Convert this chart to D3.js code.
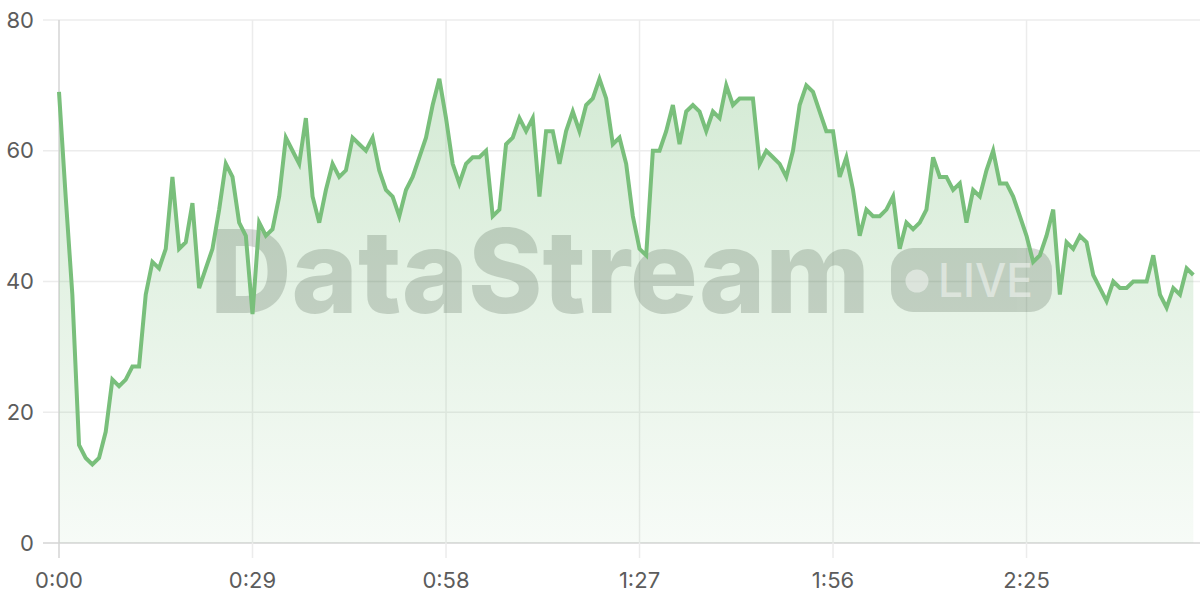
<!DOCTYPE html>
<html>
<head>
<meta charset="utf-8">
<script src="https://cdn.jsdelivr.net/npm/d3@7/dist/d3.min.js"></script>
<style>
  html, body { margin: 0; padding: 0; background: #fff; }
  #chart { width: 1200px; height: 600px; }
  text { font-family: Inter, "Noto Sans", sans-serif; }
</style>
</head>
<body>
<div id="chart"></div>
<script>
// Stream readings, one per second
const values = [
  69, 53, 38, 15, 13, 12, 13, 17, 25, 24, 25, 27, 27, 38, 43, 42, 45, 56, 45, 46,
  52, 39, 42, 45, 51, 58, 56, 49, 47, 35, 49, 47, 48, 53, 62, 60, 58, 65, 53, 49,
  54, 58, 56, 57, 62, 61, 60, 62, 57, 54, 53, 50, 54, 56, 59, 62, 67, 71, 65, 58,
  55, 58, 59, 59, 60, 50, 51, 61, 62, 65, 63, 65, 53, 63, 63, 58, 63, 66, 63, 67,
  68, 71, 68, 61, 62, 58, 50, 45, 44, 60, 60, 63, 67, 61, 66, 67, 66, 63, 66, 65,
  70, 67, 68, 68, 68, 58, 60, 59, 58, 56, 60, 67, 70, 69, 66, 63, 63, 56, 59, 54,
  47, 51, 50, 50, 51, 53, 45, 49, 48, 49, 51, 59, 56, 56, 54, 55, 49, 54, 53, 57,
  60, 55, 55, 53, 50, 47, 43, 44, 47, 51, 38, 46, 45, 47, 46, 41, 39, 37, 40, 39,
  39, 40, 40, 40, 44, 38, 36, 39, 38, 42, 41
];
const xTicks = [0, 29, 58, 87, 116, 145];
const xTickLabels = ['0:00', '0:29', '0:58', '1:27', '1:56', '2:25'];
const yTicks = [0, 20, 40, 60, 80];

const width = 1200, height = 600;
const margin = { top: 20, right: 0, bottom: 57, left: 59 };
const lineColor = '#79bf7b';

const svg = d3.select('#chart').append('svg')
  .attr('width', width)
  .attr('height', height);

const x = d3.scaleLinear().domain([0, values.length]).range([margin.left, width - margin.right]);
const y = d3.scaleLinear().domain([0, 80]).range([height - margin.bottom, margin.top]);

// Area gradient
const grad = svg.append('defs').append('linearGradient')
  .attr('id', 'fillGrad')
  .attr('x1', 0).attr('y1', 0).attr('x2', 0).attr('y2', 1);
grad.append('stop').attr('offset', '0%').attr('stop-color', lineColor).attr('stop-opacity', 0.32);
grad.append('stop').attr('offset', '100%').attr('stop-color', lineColor).attr('stop-opacity', 0.06);

// Horizontal grid
svg.append('g')
  .selectAll('line')
  .data(yTicks)
  .join('line')
  .attr('x1', margin.left - 16)
  .attr('x2', width)
  .attr('y1', d => y(d))
  .attr('y2', d => y(d))
  .attr('stroke', d => d === 0 ? '#d4d4d4' : '#ececec')
  .attr('stroke-width', 1.5);

// Vertical grid (extends below as tick)
svg.append('g')
  .selectAll('line')
  .data(xTicks)
  .join('line')
  .attr('x1', d => x(d))
  .attr('x2', d => x(d))
  .attr('y1', margin.top)
  .attr('y2', y(0) + 15)
  .attr('stroke', d => d === 0 ? '#d4d4d4' : '#ececec')
  .attr('stroke-width', 1.5);

// Area
const area = d3.area()
  .x((d, i) => x(i))
  .y0(y(0))
  .y1(d => y(d));

svg.append('path')
  .datum(values)
  .attr('fill', 'url(#fillGrad)')
  .attr('d', area);

// Watermark
const wm = svg.append('g').attr('opacity', 0.18);
wm.append('text')
  .attr('x', 210)
  .attr('y', 313)
  .attr('font-size', 116)
  .attr('font-weight', 800)
  .attr('textLength', 660)
  .attr('lengthAdjust', 'spacingAndGlyphs')
  .attr('fill', '#1f3320')
  .text('DataStream');
wm.append('rect')
  .attr('x', 891)
  .attr('y', 248)
  .attr('width', 161)
  .attr('height', 64)
  .attr('rx', 22)
  .attr('fill', '#1f3320');
svg.append('circle')
  .attr('cx', 917)
  .attr('cy', 281)
  .attr('r', 11.5)
  .attr('fill', '#fff')
  .attr('opacity', 0.45);
svg.append('text')
  .attr('x', 938)
  .attr('y', 297)
  .attr('font-size', 46)
  .attr('font-weight', 500)
  .attr('textLength', 95)
  .attr('lengthAdjust', 'spacingAndGlyphs')
  .attr('fill', '#fff')
  .attr('opacity', 0.45)
  .text('LIVE');

// Line
const line = d3.line()
  .x((d, i) => x(i))
  .y(d => y(d));

svg.append('path')
  .datum(values)
  .attr('fill', 'none')
  .attr('stroke', lineColor)
  .attr('stroke-width', 4)
  .attr('stroke-linejoin', 'miter')
  .attr('d', line);

// Y labels
svg.append('g')
  .selectAll('text')
  .data(yTicks)
  .join('text')
  .attr('x', 34)
  .attr('y', d => y(d))
  .attr('dy', '0.35em')
  .attr('text-anchor', 'end')
  .attr('font-size', 22)
  .attr('fill', '#5c5c5c')
  .text(d => d);

// X labels
svg.append('g')
  .selectAll('text')
  .data(xTicks)
  .join('text')
  .attr('x', d => x(d))
  .attr('y', 580)
  .attr('dy', '0.35em')
  .attr('text-anchor', 'middle')
  .attr('font-size', 22)
  .attr('fill', '#5c5c5c')
  .text((d, i) => xTickLabels[i]);
</script>
</body>
</html>
